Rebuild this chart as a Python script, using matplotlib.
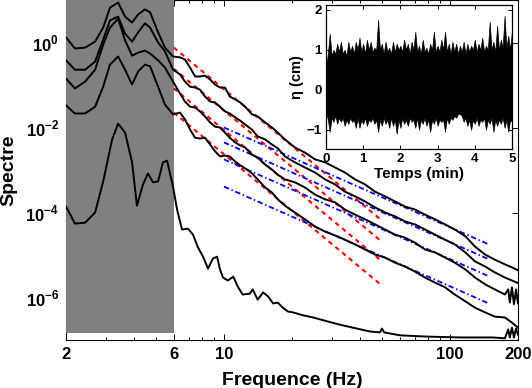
import numpy as np
import matplotlib
matplotlib.use("Agg")
import matplotlib.pyplot as plt
from matplotlib.ticker import LogLocator, NullFormatter, FixedLocator

plt.rcParams["font.family"] = ["Liberation Sans", "DejaVu Sans"]
plt.rcParams["font.weight"] = "bold"
plt.rcParams["mathtext.fontset"] = "custom"
plt.rcParams["mathtext.rm"] = "Liberation Sans:bold"
plt.rcParams["mathtext.bf"] = "Liberation Sans:bold"

# --- spectra (frequency in Hz, log10 of spectrum) ---
freq = [2.00, 2.19, 2.43, 2.69, 2.92, 3.13, 3.40, 3.65, 3.92, 4.17, 4.47, 4.71, 5.11, 5.48,
        5.95, 6.39, 6.72, 7.08, 7.45, 7.83, 8.24, 8.68, 9.13, 9.60, 10.1, 10.6, 11.2, 11.8,
        12.4, 13.3, 14.1, 15.2, 16.3, 17.3, 18.6, 20.6, 22.8, 25.3, 28.0, 31.0, 34.3, 38.0,
        42.1, 46.6, 51.6, 57.1, 63.2, 70.0, 77.5, 85.9, 95.1, 105, 117, 129, 143, 158,
        175, 188, 200]

logS_a = [0.12, -0.14, -0.12, 0.02, 0.35, 0.82, 0.94, 0.61, 0.47, 0.66, 0.78, 0.71, 0.24, -0.12,
          -0.33, -0.35, -0.40, -0.59, -0.80, -0.80, -0.78, -0.87, -0.99, -1.06, -1.06, -1.27,
          -1.34, -1.41, -1.51, -1.69, -1.74, -1.88, -2.00, -2.12, -2.28, -2.47, -2.59, -2.75,
          -2.82, -2.94, -3.06, -3.22, -3.34, -3.51, -3.62, -3.74, -3.86, -3.93, -4.05, -4.16,
          -4.28, -4.40, -4.56, -4.80, -4.99, -5.11, -5.22, -5.29, -5.36]

logS_b = [-0.42, -0.64, -0.64, -0.45, 0.07, 0.52, 0.61, 0.21, 0.02, 0.24, 0.45, 0.35, 0.00, -0.21,
          -0.64, -0.75, -0.92, -1.04, -1.06, -1.11, -1.27, -1.39, -1.41, -1.51, -1.62, -1.67,
          -1.76, -1.84, -1.93, -2.05, -2.21, -2.28, -2.40, -2.49, -2.68, -2.82, -2.94, -3.06,
          -3.22, -3.34, -3.51, -3.62, -3.74, -3.88, -4.00, -4.09, -4.21, -4.28, -4.40, -4.52,
          -4.64, -4.75, -4.94, -5.15, -5.27, -5.41, -5.53, -5.60, -5.66]

logS_d = [-1.48, -1.67, -1.67, -1.51, -1.04, -0.52, -0.33, -0.64, -0.99, -0.68, -0.52, -0.56, -1.04, -1.46,
          -1.69, -1.65, -1.81, -2.05, -2.24, -2.26, -2.24, -2.40, -2.56, -2.68, -2.66, -2.68,
          -2.80, -2.89, -2.96, -3.08, -3.22, -3.41, -3.53, -3.69, -3.84, -4.00, -4.16, -4.33,
          -4.45, -4.54, -4.64, -4.75, -4.87, -4.99, -5.06, -5.18, -5.27, -5.39, -5.53, -5.65,
          -5.76, -5.93, -6.09, -6.24, -6.35, -6.45, -6.47, -6.59, -6.71]

freq_c = freq[:-2] + [181, 184, 188, 192, 196, 200]
logS_c = [-0.85, -1.08, -0.92, -0.64, -0.05, 0.35, 0.56, 0.05, -0.31, -0.24, -0.19, -0.26, -0.42, -0.59,
          -0.92, -1.20, -1.39, -1.51, -1.53, -1.62, -1.74, -1.88, -1.98, -2.00, -2.12, -2.24,
          -2.35, -2.42, -2.47, -2.64, -2.71, -2.87, -2.99, -3.11, -3.22, -3.29, -3.41, -3.58,
          -3.69, -3.76, -3.93, -4.05, -4.16, -4.28, -4.40, -4.52, -4.59, -4.71, -4.87, -4.94,
          -5.06, -5.18, -5.34, -5.53, -5.69, -5.81, -5.93,
          -5.81, -6.12, -5.76, -6.16, -5.81, -6.14]

# noise spectrum
freq_e = [2.00, 2.19, 2.43, 2.69, 2.92, 3.20, 3.40, 3.65, 3.92, 4.12, 4.38, 4.61, 4.85, 5.11,
          5.37, 5.60, 5.95, 6.20, 6.52, 6.93, 7.29, 7.67, 8.08, 8.50, 8.94, 9.32, 9.60, 9.90,
          10.4, 11.0, 11.5, 12.1, 13.0, 13.4, 14.1, 14.9, 15.7, 16.5, 17.3, 18.2, 19.2, 20.2,
          22.4, 24.8, 28.6, 32.6, 37.2, 44.3, 49.0, 50.0, 51.1, 60.1, 79.1, 111, 155,
          175, 181, 184, 188, 192, 196, 200]
logS_e = [-3.86, -4.26, -4.24, -4.00, -3.27, -2.28, -1.91, -2.12, -2.82, -3.84, -3.34, -3.08, -3.29, -3.27,
          -2.82, -2.78, -3.39, -3.93, -4.40, -4.38, -4.52, -4.82, -5.04, -5.32, -5.08, -5.04, -5.34, -5.53,
          -5.60, -5.51, -5.74, -5.93, -5.91, -5.81, -6.05, -5.88, -5.98, -6.14, -6.12, -6.24, -6.33, -6.35,
          -6.42, -6.47, -6.56, -6.64, -6.71, -6.80, -6.82, -6.73, -6.82, -6.89, -6.92, -6.94, -6.94,
          -6.96, -6.75, -6.94, -6.71, -6.94, -6.73, -6.87]

# power-law fits: red between 6 and 50 Hz, blue between 10 and 150 Hz
red_f = [6, 50]
red_logS = [[-0.12, -4.19], [-0.62, -4.69], [-1.08, -5.15], [-1.65, -5.72]]
blue_f = [10, 150]
blue_logS = [[-2.00, -4.76], [-2.35, -5.11], [-2.75, -5.51], [-3.39, -6.15]]

shade_f = [2, 6]
shade_S = [1.5e-7, 10]

# --- inset: surface elevation envelope (every 0.05 min) ---
t_min = np.linspace(0, 5, 101)
eta_up = [0.55, 0.9, 1.4, 0.85, 1.0, 0.9, 1.15, 0.95, 1.2, 0.9,
          1.0, 0.85, 1.2, 0.95, 1.1, 0.9, 1.2, 1.0, 1.3, 0.95,
          1.15, 0.9, 1.25, 1.0, 1.2, 0.95, 1.05, 1.0, 1.75, 1.0,
          1.15, 0.9, 1.2, 0.95, 1.05, 0.9, 1.2, 0.95, 1.15, 1.0,
          1.1, 0.95, 1.25, 1.0, 1.15, 0.9, 1.2, 1.0, 1.45, 0.95,
          1.1, 0.9, 1.25, 0.95, 1.05, 0.9, 1.15, 1.0, 1.45, 0.95,
          1.1, 0.95, 1.25, 1.0, 1.45, 0.95, 1.15, 0.9, 1.2, 0.95,
          1.15, 0.9, 1.1, 0.95, 1.2, 0.9, 1.15, 0.95, 1.1, 1.0,
          1.25, 0.95, 1.15, 1.0, 1.3, 0.95, 1.1, 1.0, 1.7, 1.0,
          1.2, 0.95, 1.6, 1.0, 1.25, 1.05, 1.85, 1.05, 1.35, 1.0,
          1.5]
eta_low = [-0.55, -0.75, -1.05, -0.7, -0.8, -0.65, -0.85, -0.7, -0.8, -0.7,
           -0.9, -0.75, -0.85, -0.7, -0.8, -0.75, -0.95, -0.7, -0.95, -0.75,
           -0.85, -0.7, -0.9, -0.75, -0.8, -0.7, -0.85, -0.75, -1.05, -0.75,
           -0.9, -0.7, -0.85, -0.75, -0.95, -0.7, -0.9, -0.75, -1.1, -0.75,
           -0.95, -0.7, -0.85, -0.75, -0.9, -0.7, -0.8, -0.75, -0.95, -0.7,
           -1.0, -0.75, -0.85, -0.7, -0.9, -0.75, -1.05, -0.75, -0.85, -0.7,
           -0.9, -0.75, -0.8, -0.75, -1.05, -0.7, -0.85, -0.7, -0.75, -0.65,
           -0.7, -0.6, -0.6, -0.65, -0.8, -0.7, -0.9, -0.75, -1.0, -0.75,
           -0.85, -0.7, -0.9, -0.75, -0.8, -0.7, -1.0, -0.75, -0.85, -0.7,
           -1.05, -0.75, -0.9, -0.75, -0.85, -0.7, -0.95, -0.75, -1.05, -0.75,
           -0.8]

fig = plt.figure(figsize=(5.32, 3.88), dpi=100)
ax = fig.add_axes([0.1241, 0.1237, 0.8496, 0.8763])

ax.fill_between(shade_f, shade_S[0], shade_S[1], color="#808080", lw=0, zorder=2.6)

for ls in red_logS:
    ax.plot(red_f, 10 ** np.array(ls), color="red", lw=1.5, ls=(0, (2.2, 2)), zorder=3)
for ls in blue_logS:
    ax.plot(blue_f, 10 ** np.array(ls), color="blue", lw=1.3, ls=(0, (3, 1.5, 0.8, 1.5)), zorder=3)

for f, ls in [(freq, logS_a), (freq, logS_b), (freq_c, logS_c), (freq, logS_d), (freq_e, logS_e)]:
    ax.plot(f, 10 ** np.array(ls), color="black", lw=1.4, zorder=4)

ax.set_xscale("log")
ax.set_yscale("log")
ax.set_xlim(2, 200)
ax.set_ylim(1e-7, 10)
ax.xaxis.set_major_locator(FixedLocator([2, 6, 10, 100, 200]))
ax.set_xticklabels(["2", "6", "10", "100", "200"])
ax.xaxis.set_minor_locator(LogLocator(base=10, subs=range(2, 10)))
ax.xaxis.set_minor_formatter(NullFormatter())
ax.yaxis.set_major_locator(FixedLocator([1e-6, 1e-4, 1e-2, 1]))
ax.set_yticklabels([r"$10^{-6}$", r"$10^{-4}$", r"$10^{-2}$", r"$10^{0}$"])
ax.yaxis.set_minor_locator(FixedLocator([]))
ax.tick_params(which="both", direction="in", top=True, right=True, labelsize=12, width=0.7)
ax.tick_params(which="major", length=4, pad=5)
ax.tick_params(which="minor", length=2.2)
for s in ax.spines.values():
    s.set_linewidth(0.8)
ax.set_xlabel("Frequence (Hz)", fontsize=14, fontweight="bold")
ax.set_ylabel("Spectre", fontsize=14, fontweight="bold")
ax.xaxis.set_label_coords(0.5, -0.094)
ax.yaxis.set_label_coords(-0.108, 0.5)

# inset
axi = fig.add_axes([0.6128, 0.616, 0.3496, 0.3711])
axi.fill_between(t_min, eta_low, eta_up, color="black", lw=0.5)
axi.set_xlim(0, 5)
axi.set_ylim(-1.48, 2.12)
axi.set_xticks([0, 1, 2, 3, 4, 5])
axi.set_yticks([-1, 0, 1, 2])
axi.set_yticklabels(["\u22121", "0", "1", "2"])
axi.tick_params(direction="in", top=True, right=True, labelsize=9.5, length=3, pad=3, width=0.7)
for s in axi.spines.values():
    s.set_linewidth(0.9)
axi.set_xlabel("Temps (min)", fontsize=11, fontweight="bold", labelpad=1)
axi.set_ylabel("\u03b7 (cm)", fontsize=10.5, fontweight="bold", labelpad=2)

fig.savefig("out.png", dpi=100)
